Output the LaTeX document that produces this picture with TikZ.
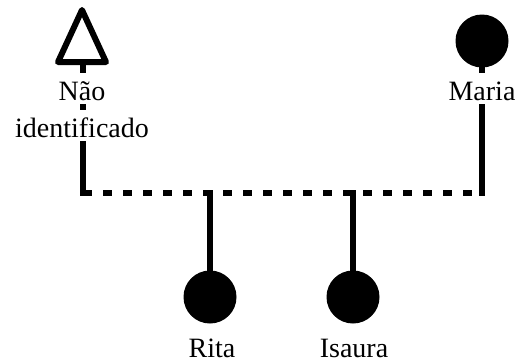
\documentclass[tikz,border=0pt]{standalone}
\usepackage{fontspec}
\setmainfont{Liberation Serif}
\begin{document}
\begin{tikzpicture}[x=1pt, y=-1pt,
  kin/.style={line width=6.5pt, line cap=rect},
  marriage/.style={line width=6pt, dash pattern=on 9pt off 11pt},
  male/.style={line width=6pt, line join=round},
  female/.style={circle, fill=black, inner sep=0pt, minimum size=53pt},
  lbl/.style={font=\fontsize{28}{30}\selectfont, fill=white, inner sep=0pt,
              text height=27pt, text depth=4pt, anchor=base}]
\useasboundingbox (0,0) rectangle (515,362);

% unidentified father: open triangle
\coordinate (ta) at (82,10);
\coordinate (tl) at (58,62);
\coordinate (tr) at (106,62);
\coordinate (tb) at (83,62);
\draw[male] (ta) -- (tl) -- (tr) -- cycle;

% mother and daughters
\node[female] (maria) at (482,41) {};
\node[female] (rita) at (210,297) {};
\node[female] (isaura) at (353,297) {};

% union line and descent lines
\coordinate (lc) at (83,193);
\coordinate (rc) at (maria |- lc);
\draw[kin] (tb) -- (lc);
\draw[kin] (maria.south) -- (rc);
\draw[kin] (rita) -- (rita |- lc);
\draw[kin] (isaura) -- (isaura |- lc);
\draw[marriage] (lc) -- (rc);

% names
\node[lbl] (nao) at (82,100) {Não};
\node[lbl] (ident) at (82,137) {identificado};
\node[lbl] (marialbl) at (482,100) {Maria};
\node[lbl] (ritalbl) at (212,357) {Rita};
\node[lbl] (isauralbl) at (354,357) {Isaura};
\end{tikzpicture}
\end{document}
